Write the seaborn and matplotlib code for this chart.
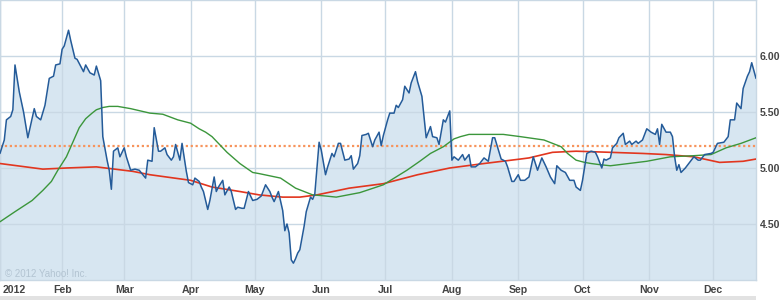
import numpy as np
import pandas as pd
import matplotlib
matplotlib.use("Agg")
import matplotlib.pyplot as plt
import matplotlib.transforms as mtransforms
from matplotlib.patches import Rectangle
import seaborn as sns

# ---- data (day of year 2012, closing price) ----
price_day = [3, 5, 6, 8, 9, 10, 12, 14, 16, 19, 20, 22, 24, 26, 28, 29, 31, 32, 33, 35,
             36, 38, 39, 42, 43, 45, 47, 48, 50, 51, 53, 54, 55, 56, 58, 59, 61, 62, 64, 66,
             68, 71, 72, 74, 75, 77, 78, 80, 81, 83, 84, 85, 87, 88, 90, 91, 93, 94, 96, 97,
             98, 100, 101, 103, 104, 105, 107, 108, 110, 111, 113, 114, 116, 117, 119, 121, 123, 125, 127, 129,
             130, 131, 133, 135, 136, 137, 138, 139, 140, 141, 142, 143, 145, 146, 148, 149, 150, 152, 153, 155,
             156, 158, 159, 161, 162, 164, 166, 167, 168, 170, 171, 172, 174, 175, 177, 178, 180, 181, 182, 184,
             185, 187, 188, 189, 191, 192, 194, 195, 197, 198, 200, 202, 204, 205, 207, 208, 210, 211, 213, 214,
             215, 217, 219, 220, 222, 223, 225, 227, 229, 231, 233, 234, 237, 239, 240, 242, 243, 245, 246, 248,
             250, 252, 254, 256, 258, 260, 262, 263, 265, 267, 269, 271, 272, 274, 275, 277, 279, 281, 282, 284,
             285, 286, 288, 289, 291, 292, 294, 295, 297, 298, 300, 301, 303, 305, 307, 309, 310, 311, 312, 314,
             316, 317, 318, 319, 320, 321, 323, 325, 327, 329, 330, 332, 335, 336, 338, 341, 343, 344, 346, 347,
             349, 350, 352, 353, 354, 356]
price = [5.13, 5.25, 5.43, 5.46, 5.52, 5.92, 5.68, 5.50, 5.27, 5.53, 5.46, 5.43, 5.56, 5.80, 5.82, 5.92, 5.93, 6.06, 6.09, 6.23,
         6.14, 5.98, 5.97, 5.86, 5.92, 5.85, 5.83, 5.91, 5.78, 5.28, 5.07, 4.98, 4.81, 5.15, 5.18, 5.10, 5.18, 5.10, 4.98, 4.99,
         4.98, 4.91, 5.07, 5.06, 5.36, 5.15, 5.15, 5.18, 5.12, 5.07, 5.10, 5.21, 5.07, 5.22, 4.97, 4.87, 4.85, 4.91, 4.88, 4.83,
         4.79, 4.63, 4.71, 4.92, 4.79, 4.83, 4.89, 4.76, 4.83, 4.79, 4.63, 4.65, 4.64, 4.64, 4.79, 4.71, 4.72, 4.75, 4.85, 4.79,
         4.74, 4.70, 4.79, 4.62, 4.44, 4.50, 4.42, 4.18, 4.15, 4.19, 4.24, 4.27, 4.48, 4.61, 4.74, 4.72, 4.77, 5.23, 5.16, 4.94,
         5.01, 5.13, 5.10, 5.22, 5.22, 5.07, 5.08, 5.11, 4.99, 5.04, 5.11, 5.29, 5.30, 5.31, 5.19, 5.25, 5.32, 5.20, 5.29, 5.43,
         5.49, 5.49, 5.56, 5.54, 5.61, 5.73, 5.67, 5.76, 5.86, 5.77, 5.64, 5.27, 5.37, 5.28, 5.27, 5.21, 5.43, 5.41, 5.51, 5.07,
         5.10, 5.07, 5.12, 5.07, 5.12, 5.01, 5.01, 5.04, 5.09, 5.06, 5.27, 5.27, 5.08, 5.06, 5.01, 4.88, 4.88, 4.94, 4.89, 4.89,
         4.92, 5.10, 4.98, 5.09, 5.01, 4.92, 4.86, 5.02, 4.98, 4.96, 4.89, 4.89, 4.83, 4.80, 4.89, 5.13, 5.15, 5.14, 5.10, 5.00,
         5.08, 5.07, 5.09, 5.18, 5.22, 5.27, 5.31, 5.21, 5.24, 5.21, 5.24, 5.22, 5.25, 5.35, 5.32, 5.30, 5.35, 5.21, 5.39, 5.32,
         5.32, 5.28, 5.10, 4.98, 5.03, 4.96, 5.00, 5.05, 5.10, 5.07, 5.07, 5.12, 5.13, 5.14, 5.22, 5.23, 5.28, 5.43, 5.43, 5.58,
         5.53, 5.71, 5.82, 5.86, 5.94, 5.80]

ma50_day = [3, 10, 18, 23, 27, 30, 34, 37, 40, 43, 46, 48, 51, 54, 58, 64, 73, 79, 86, 92,
            96, 99, 102, 105, 109, 112, 115, 118, 121, 124, 134, 141, 145, 149, 155, 160, 171, 182, 193, 199,
            204, 210, 215, 218, 222, 238, 246, 257, 265, 268, 272, 276, 279, 283, 288, 305, 316, 327, 335, 342,
            349, 356]
ma50 = [4.52, 4.61, 4.71, 4.80, 4.88, 4.98, 5.10, 5.23, 5.36, 5.44, 5.49, 5.52, 5.54, 5.55, 5.55, 5.53, 5.49, 5.48, 5.43, 5.40,
        5.35, 5.32, 5.28, 5.22, 5.14, 5.09, 5.04, 5.00, 4.96, 4.95, 4.91, 4.82, 4.79, 4.76, 4.75, 4.74, 4.78, 4.85, 4.98, 5.06,
        5.13, 5.19, 5.26, 5.28, 5.30, 5.30, 5.28, 5.25, 5.19, 5.13, 5.07, 5.05, 5.04, 5.03, 5.02, 5.06, 5.10, 5.11, 5.12, 5.18,
        5.22, 5.27]

ma200_day = [3, 23, 34, 48, 65, 73, 92, 102, 115, 124, 135, 143, 151, 166, 182, 198, 213, 229, 246, 250,
             261, 272, 288, 303, 314, 327, 339, 350, 356]
ma200 = [5.04, 4.99, 5.00, 5.01, 4.97, 4.94, 4.89, 4.83, 4.79, 4.76, 4.74, 4.74, 4.76, 4.82, 4.86, 4.94, 5.00, 5.04, 5.08, 5.09,
         5.14, 5.15, 5.14, 5.13, 5.12, 5.10, 5.05, 5.06, 5.08]

ref_level = 5.20
x_labels = ["2012", "Feb", "Mar", "Apr", "May", "Jun", "Jul", "Aug", "Sep", "Oct", "Nov", "Dec"]
y_ticks = [4.50, 5.00, 5.50, 6.00]
y_range = [4.0, 6.5]
first_day, last_day = 3, 356


def to_date(days):
    return pd.Timestamp("2012-01-01") + pd.to_timedelta(np.asarray(days) - 1, unit="D")


df_price = pd.DataFrame({"date": to_date(price_day), "close": price})
df_ma50 = pd.DataFrame({"date": to_date(ma50_day), "v": ma50})
df_ma200 = pd.DataFrame({"date": to_date(ma200_day), "v": ma200})

sns.set_theme(style="white")
plt.rcParams["font.family"] = ["Liberation Sans", "DejaVu Sans"]

W, H = 784, 300
fig = plt.figure(figsize=(W / 100, H / 100), dpi=100)
ax = fig.add_axes([0, 20 / H, 756 / W, 280 / H])

grid_c = "#c9d8e4"
ax.fill_between(df_price["date"], df_price["close"], y_range[0], color="#d7e6f1", lw=0, zorder=0.3)
ax.axhline(ref_level, color="#f7945c", lw=1.6, ls=(0, (1, 1.2)), zorder=2)
sns.lineplot(data=df_ma200, x="date", y="v", ax=ax, color="#e2361f", lw=1.2, estimator=None, zorder=3)
sns.lineplot(data=df_ma50, x="date", y="v", ax=ax, color="#3b963b", lw=1.0, estimator=None, zorder=3)
sns.lineplot(data=df_price, x="date", y="close", ax=ax, color="#245b99", lw=1.1, estimator=None, zorder=4)

ax.set_xlim(to_date([first_day])[0], to_date([last_day])[0])
ax.set_ylim(*y_range)

xt = [to_date([first_day])[0]] + list(pd.date_range("2012-02-01", "2012-12-01", freq="MS"))
ax.set_xticks(xt)
ax.set_xticklabels(x_labels)
ax.set_yticks(y_ticks)
ax.set_yticklabels([f"{v:.2f}" for v in y_ticks])
ax.yaxis.tick_right()
ax.tick_params(axis="both", length=0, labelsize=7.6, labelcolor="#454545")
ax.tick_params(axis="x", pad=3.5)
ax.tick_params(axis="y", pad=2.5)
for lab in ax.get_xticklabels() + ax.get_yticklabels():
    lab.set_fontweight("bold")
first = ax.get_xticklabels()[0]
first.set_horizontalalignment("left")
first.set_transform(first.get_transform() + mtransforms.ScaledTranslation(3 / 100, 0, fig.dpi_scale_trans))

ax.set_axisbelow(True)
ax.grid(True, color=grid_c, lw=1.0)
for s in ax.spines.values():
    s.set_color(grid_c)
    s.set_linewidth(1.0)
ax.set_xlabel("")
ax.set_ylabel("")

fig.text(5 / W, (H - 277) / H, "\u00a9 2012 Yahoo! Inc.", fontsize=7.0, color="#b3c4d2", va="baseline")
fig.patches.append(Rectangle((0, 0), 756 / W, 4 / H, transform=fig.transFigure,
                             facecolor="#e2e2e2", edgecolor="none"))

fig.savefig("out.png", dpi=100)
